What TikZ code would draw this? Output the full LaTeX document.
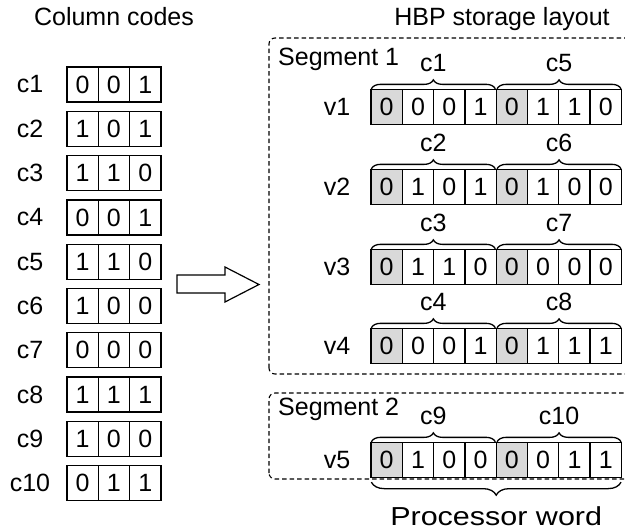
\documentclass[tikz,border=0pt]{standalone}
\usepackage{fontspec}
\usepackage{graphicx}
\setmainfont{Liberation Sans}
\usetikzlibrary{decorations.pathreplacing,calc}
\begin{document}
\begin{tikzpicture}[x=1pt,y=-1pt,
  txt/.style={font=\fontsize{25}{30}\selectfont, inner sep=0pt},
  cell/.style={txt, draw, line width=1.3pt, minimum width=31.3pt, minimum height=35pt, fill=white},
  graycell/.style={cell, fill=gray!30},
  brc/.style={decorate, decoration={brace, amplitude=9pt}, line width=1.3pt},
  segbox/.style={draw, dashed, dash pattern=on 4.5pt off 3pt, line width=1.1pt, rounded corners=6pt},
  bigarrow/.style={draw, line width=1.2pt, fill=white}]
\useasboundingbox (0,0) rectangle (625,531);

% titles
\node[txt, anchor=base] (t1) at (114,25) {Column codes};
\node[txt, anchor=base] (t2) at (502,25) {HBP storage layout};

% left column codes
\foreach \a/\b/\c [count=\i] in {0/0/1,1/0/1,1/1/0,0/0/1,1/1/0,1/0/0,0/0/0,1/1/1,1/0/0,0/1/1}{
  \pgfmathsetmacro\yy{84.5+44.3*(\i-1)}
  \node[txt] (cl\i) at (30,\yy) {c\i};
  \node[cell] (L\i-1) at (82.65,\yy) {\a};
  \node[cell] (L\i-2) at (113.95,\yy) {\b};
  \node[cell] (L\i-3) at (145.25,\yy) {\c};
}

% segment boxes
\draw[segbox] (269,374) rectangle (645,38);
\draw[segbox] (269,479) rectangle (645,393);
\node[txt, anchor=base west] (s1) at (278,65) {Segment 1};
\node[txt, anchor=base west] (s2) at (278,415) {Segment 2};

% storage rows
\foreach \r/\yy/\la/\lb/\bits in {
  1/107/c1/c5/{0,0,0,1,0,1,1,0},
  2/187/c2/c6/{0,1,0,1,0,1,0,0},
  3/267/c3/c7/{0,1,1,0,0,0,0,0},
  4/346/c4/c8/{0,0,0,1,0,1,1,1},
  5/460/c9/c10/{0,1,0,0,0,0,1,1}}{
  \node[txt] (v\r) at (337,\yy) {v\r};
  \foreach \bit [count=\j] in \bits {
    \pgfmathtruncatemacro\g{(\j==1)||(\j==5)}
    \pgfmathsetmacro\xx{386.65+31.3*(\j-1)}
    \ifnum\g=1
      \node[graycell] (R\r-\j) at (\xx,\yy) {\bit};
    \else
      \node[cell] (R\r-\j) at (\xx,\yy) {\bit};
    \fi
  }
  \draw[brc] ($(R\r-1.north west)+(1,0)$) -- ($(R\r-4.north east)+(-1.5,0)$)
    node[txt, midway, anchor=base, yshift=17pt] (lab\r a) {\la};
  \draw[brc] ($(R\r-5.north west)+(1.5,0)$) -- ($(R\r-8.north east)+(-1,0)$)
    node[txt, midway, anchor=base, yshift=17pt] (lab\r b) {\lb};
}

% processor word brace
\draw[decorate, decoration={brace, amplitude=13pt, raise=4pt}, line width=1.3pt]
  ($(R5-8.south east)+(-1,0)$) -- ($(R5-1.south west)+(1,0)$)
  node[txt, midway, anchor=base, yshift=-47pt] (pw) {\scalebox{1.22}[1.04]{Processor word}};

% big arrow
\coordinate (a1) at (177,275);
\coordinate (a2) at (225,275);
\coordinate (a3) at (225,267);
\coordinate (a4) at (259,284.5);
\coordinate (a5) at (225,302);
\coordinate (a6) at (225,293);
\coordinate (a7) at (177,293);
\draw[bigarrow] (a1) -- (a2) -- (a3) -- (a4) -- (a5) -- (a6) -- (a7) -- cycle;
\end{tikzpicture}
\end{document}
